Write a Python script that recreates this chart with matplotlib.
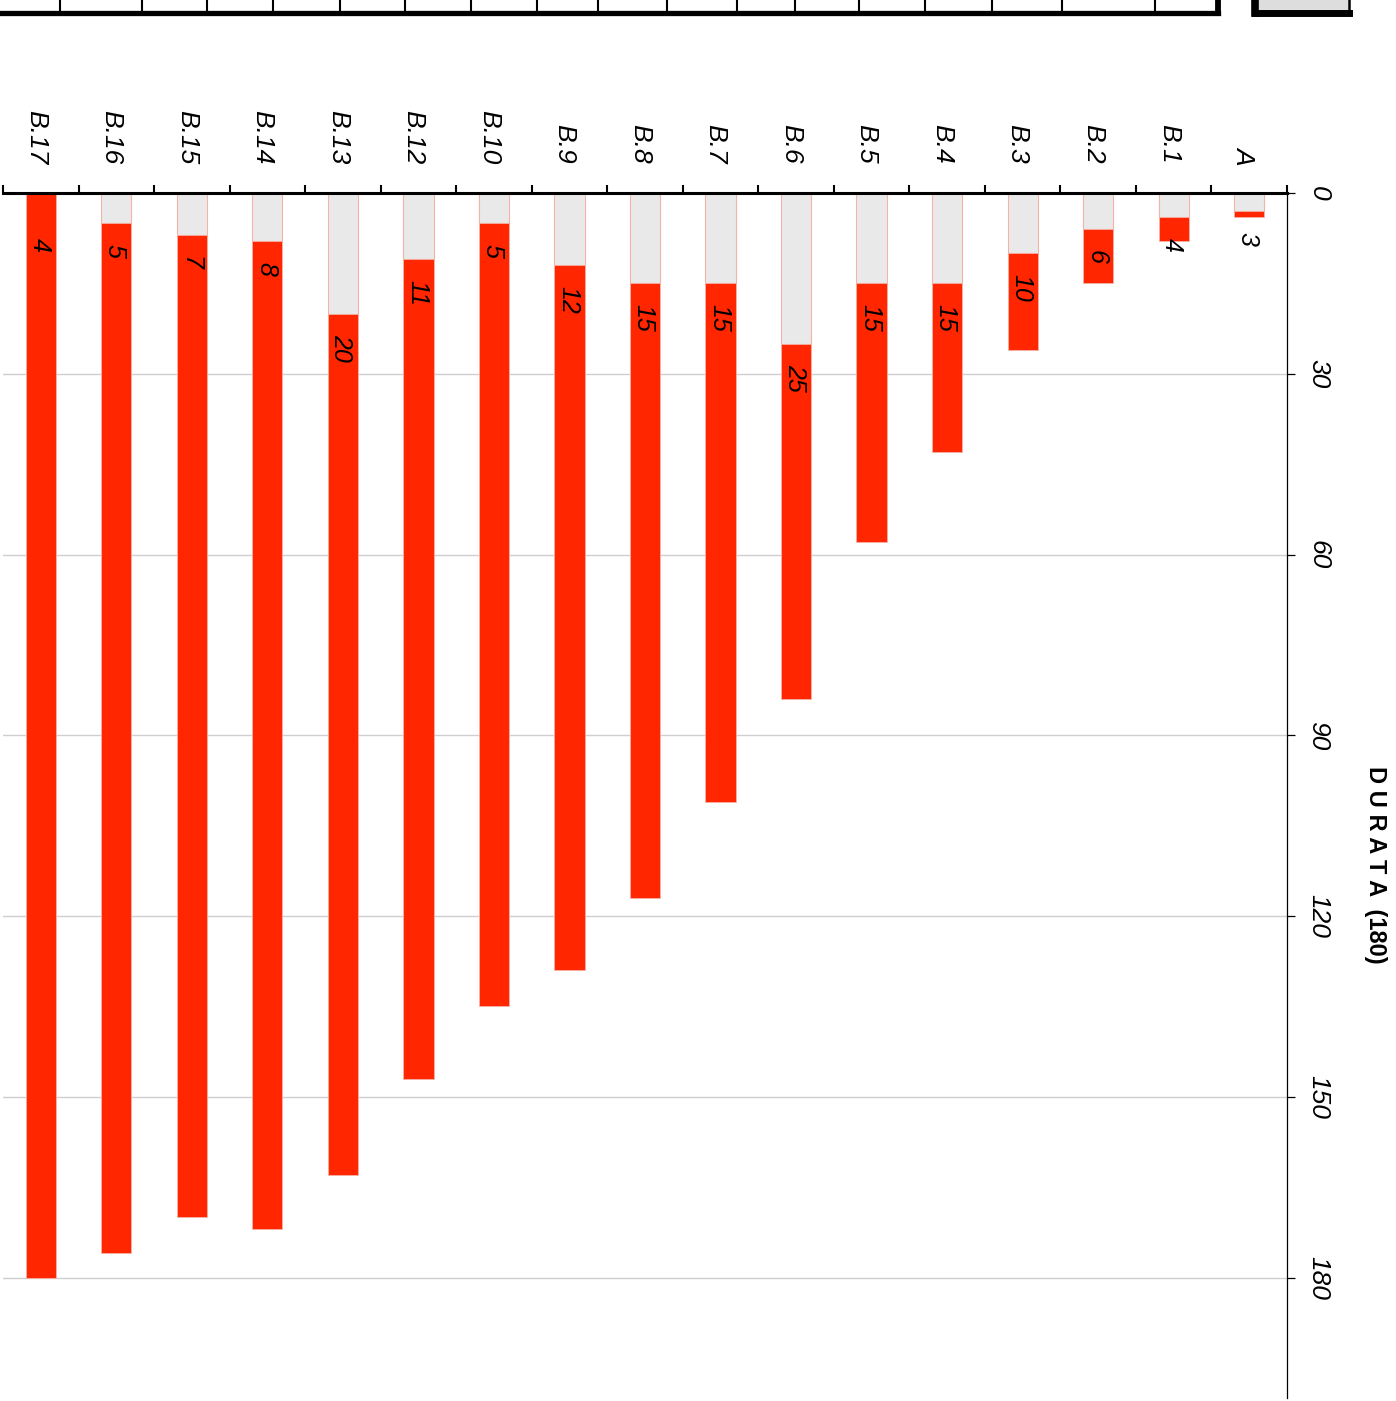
import matplotlib.pyplot as plt
import matplotlib.transforms as mtransforms
import numpy as np

plt.rcParams['font.family'] = ['Liberation Sans', 'DejaVu Sans']

# Task data (A at the right edge, B.17 at the left edge)
tasks = ['A', 'B.1', 'B.2', 'B.3', 'B.4', 'B.5', 'B.6', 'B.7', 'B.8',
         'B.9', 'B.10', 'B.12', 'B.13', 'B.14', 'B.15', 'B.16', 'B.17']
starts = [3, 4, 6, 10, 15, 15, 25, 15, 15, 12, 5, 11, 20, 8, 7, 5, 0]
ends = [4, 8, 15, 26, 43, 58, 84, 101, 117, 129, 135, 147, 163, 172, 170,
        176, 180]
labels = [3, 4, 6, 10, 15, 15, 25, 15, 15, 12, 5, 11, 20, 8, 7, 5, 4]
value_ticks = [0, 30, 60, 90, 120, 150, 180]
axis_title = 'D U R A T A  (180)'

# Tick marks of the navigator strip clipped at the top of the picture
nav_ticks = [60, 142, 207, 273, 340, 405, 471, 537, 598, 667, 737, 795,
             859, 925, 992, 1062, 1155]

RED = '#ff2600'
GREY = '#e9e9e9'
EDGE = '#f5b3a8'

W, H = 1396, 1401
fig = plt.figure(figsize=(W / 100, H / 100), dpi=100)


def px_axes(x0, y0, x1, y1):
    """Axes from pixel box (top-left origin)."""
    return fig.add_axes([x0 / W, 1 - y1 / H, (x1 - x0) / W, (y1 - y0) / H])


# Main chart
ax = px_axes(3, 193, 1287, 1398)
x = np.arange(len(tasks))
starts_a = np.array(starts)
ends_a = np.array(ends)

ax.bar(x, starts_a, width=0.4, bottom=0, color=GREY, edgecolor=EDGE,
       linewidth=0.8, zorder=2)
ax.bar(x, ends_a - starts_a, width=0.4, bottom=starts_a, color=RED,
       edgecolor=EDGE, linewidth=0.6, zorder=2)

for i, lab in enumerate(labels):
    ax.annotate(str(lab), xy=(i, lab), xytext=(-1, -15),
                textcoords='offset points', rotation=270, ha='center',
                va='top', fontsize=18, fontstyle='italic', zorder=3)

ax.set_xlim(len(tasks) - 0.5, -0.5)
ax.set_ylim(200, 0)

ax.xaxis.tick_top()
ax.set_xticks(x)
ax.set_xticklabels(tasks, rotation=270, fontsize=19, fontstyle='italic')
ax.set_xticks(np.arange(len(tasks) + 1) - 0.5, minor=True)
ax.tick_params(axis='x', which='major', length=0, pad=21)
ax.tick_params(axis='x', which='minor', direction='out', length=6,
               width=1.5, color='black')
shift = mtransforms.ScaledTranslation(-5 / 100, 0, fig.dpi_scale_trans)
for tl in ax.get_xticklabels():
    tl.set_transform(tl.get_transform() + shift)

ax.yaxis.tick_right()
ax.set_yticks(value_ticks)
ax.set_yticklabels([str(v) for v in value_ticks], rotation=270,
                   fontsize=19, fontstyle='italic', va='center')
ax.tick_params(axis='y', direction='out', length=6, width=0.9, pad=8,
               color='black')
ax.yaxis.grid(True, color='#cfcfcf', linewidth=1)
ax.set_axisbelow(True)

ax.spines['left'].set_visible(False)
ax.spines['bottom'].set_visible(False)
ax.spines['top'].set_linewidth(2.2)
ax.spines['right'].set_linewidth(0.9)

fig.text(1376 / W, 1 - 865 / H, axis_title, rotation=270, ha='center',
         va='center', fontsize=17, fontweight='bold')

# Navigator strip at the top (mostly off the canvas)
nav = px_axes(-20, -60, 1218, 13)
nav.set_xlim(-20, 1218)
nav.set_ylim(0, 1)
nav.vlines(nav_ticks, 0, 1, color='black', linewidth=1.5)
nav.set_xticks([])
nav.set_yticks([])
for side in ['top', 'left']:
    nav.spines[side].set_visible(False)
nav.spines['bottom'].set_linewidth(3.8)
nav.spines['right'].set_linewidth(4.2)

handle = px_axes(1255, -60, 1349, 13)
handle.set_facecolor('#dddddd')
handle.set_xticks([])
handle.set_yticks([])
handle.spines['top'].set_visible(False)
handle.spines['left'].set_linewidth(5.5)
handle.spines['bottom'].set_linewidth(5)
handle.spines['right'].set_linewidth(1.8)

fig.savefig('out.png', dpi=100)
